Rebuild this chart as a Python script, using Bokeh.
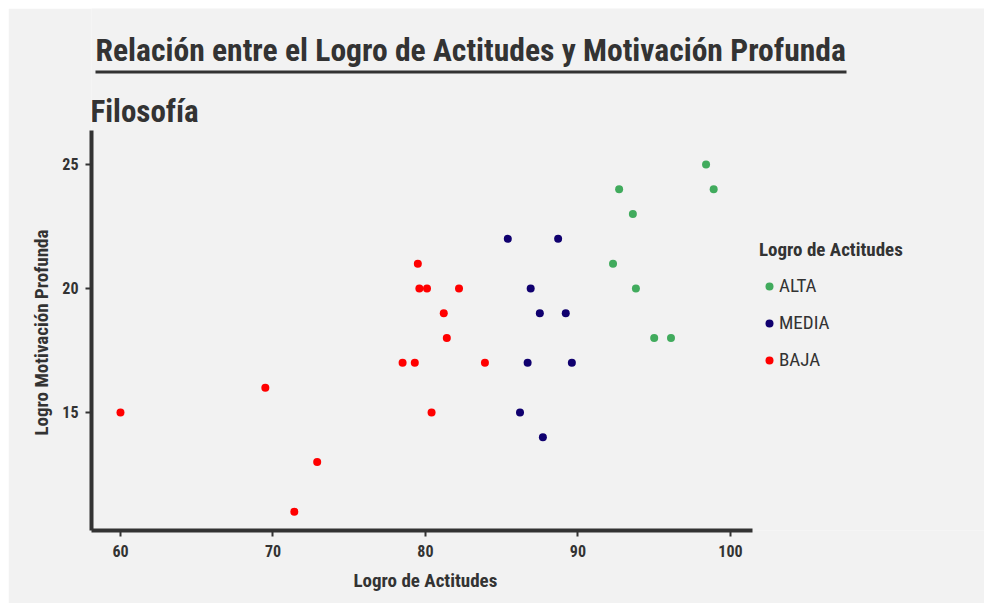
from bokeh.plotting import figure
from bokeh.models import (Label, BoxAnnotation, Range1d, Legend, LegendItem,
                          FixedTicker, ColumnDataSource, Title)
from bokeh.embed import file_html
from bokeh.resources import INLINE

# ---------------- data ----------------
title_text = "Relación entre el Logro de Actitudes y Motivación Profunda"
subtitle_text = "Filosofía"
x_label = "Logro de Actitudes"
y_label = "Logro Motivación Profunda"
legend_title = "Logro de Actitudes"

groups = ["ALTA", "MEDIA", "BAJA"]
group_colors = ["#41ab5d", "#10006f", "#ff0000"]

alta_x = [98.4, 92.7, 98.9, 93.6, 92.3, 93.8, 95.0, 96.1]
alta_y = [25, 24, 24, 23, 21, 20, 18, 18]

media_x = [85.4, 88.7, 86.9, 87.5, 89.2, 86.7, 89.6, 86.2, 87.7]
media_y = [22, 22, 20, 19, 19, 17, 17, 15, 14]

baja_x = [60.0, 69.5, 71.4, 72.9, 78.5, 79.3, 79.5, 79.6, 80.1, 80.4, 81.2, 81.4, 82.2, 83.9]
baja_y = [15, 16, 11, 13, 17, 17, 21, 20, 20, 15, 19, 18, 20, 17]

x_ticks = [60, 70, 80, 90, 100]
y_ticks = [15, 20, 25]
x_axis_span = (58.1, 101.45)
y_axis_span = (10.24, 26.37)

# ---------------- style ----------------
FONT = "Roboto Condensed"
BG = "#f2f2f2"
INK = "#333333"

# frame covers the header area too; axes are limited with bounds
p = figure(width=976, height=595, output_backend="svg", toolbar_location=None,
           x_range=Range1d(58.1, 116.66), y_range=Range1d(10.24, 31.29),
           min_border_left=83, min_border_right=0, min_border_top=0, min_border_bottom=73,
           background_fill_color=BG, border_fill_color=BG, outline_line_color=None,
           margin=(8, 8, 8, 8))
p.grid.visible = False

renderers = []
for name, color, xs, ys in zip(groups, group_colors, [alta_x, media_x, baja_x], [alta_y, media_y, baja_y]):
    src = ColumnDataSource(dict(x=xs, y=ys))
    r = p.scatter("x", "y", source=src, size=8, color=color, line_color=None)
    renderers.append(r)

for ax in (p.xaxis[0], p.yaxis[0]):
    ax.axis_line_width = 4
    ax.axis_line_color = INK
    ax.major_tick_line_color = INK
    ax.major_tick_line_width = 2
    ax.major_tick_out = 6
    ax.major_tick_in = 0
    ax.minor_tick_line_color = None
    ax.major_label_text_font = FONT
    ax.major_label_text_font_size = "16px"
    ax.major_label_text_font_style = "bold"
    ax.major_label_text_color = INK

p.xaxis[0].ticker = FixedTicker(ticks=x_ticks)
p.yaxis[0].ticker = FixedTicker(ticks=y_ticks)
p.xaxis[0].bounds = x_axis_span
p.yaxis[0].bounds = y_axis_span
p.xaxis[0].major_label_standoff = 8
p.yaxis[0].major_label_standoff = 7

# axis titles (placed as titles so they centre on the drawn axis part)
p.add_layout(Title(text=x_label, align="left", offset=262, standoff=15,
                   text_font=FONT, text_font_size="19px", text_font_style="bold",
                   text_color=INK), "below")
p.add_layout(Title(text=y_label, align="left", offset=95, standoff=14,
                   text_font=FONT, text_font_size="19px", text_font_style="bold",
                   text_color=INK), "left")

# header texts (screen units, relative to the frame's bottom-left)
p.add_layout(Label(x=4, y=480, x_units="screen", y_units="screen", text=title_text,
                   text_font=FONT, text_font_size="31.6px", text_font_style="bold",
                   text_color=INK, text_baseline="alphabetic"))
p.add_layout(BoxAnnotation(left=4, right=755, bottom=457, top=460,
                           left_units="screen", right_units="screen",
                           bottom_units="screen", top_units="screen",
                           fill_color=INK, fill_alpha=1.0, line_color=None))
p.add_layout(Label(x=-1, y=419, x_units="screen", y_units="screen", text=subtitle_text,
                   text_font=FONT, text_font_size="31px", text_font_style="bold",
                   text_color=INK, text_baseline="alphabetic"))

legend = Legend(items=[LegendItem(label=g, renderers=[r]) for g, r in zip(groups, renderers)],
                title=legend_title, location=(668, 159), orientation="vertical",
                title_text_font=FONT, title_text_font_size="19px", title_text_font_style="bold",
                title_text_color=INK, title_standoff=13,
                label_text_font=FONT, label_text_font_size="19px", label_text_color=INK,
                glyph_width=20, glyph_height=20, label_height=20, label_standoff=0,
                spacing=14, padding=0, margin=0,
                background_fill_alpha=0, border_line_color=None)
p.add_layout(legend)

open("out.html", "w").write(file_html(p, INLINE))
